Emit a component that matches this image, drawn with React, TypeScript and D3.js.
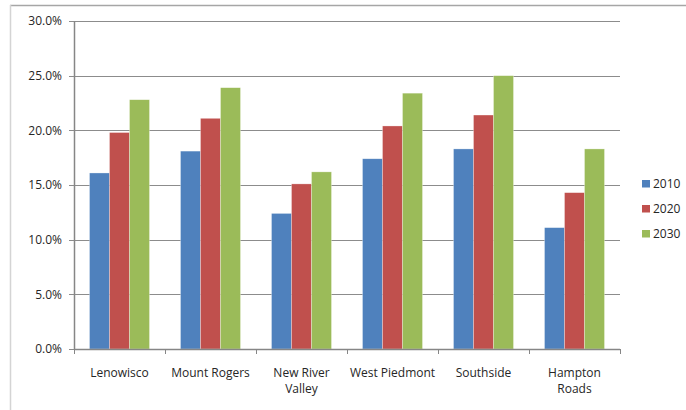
import React from "react";
import * as d3 from "d3";

const categories = ["Lenowisco", "Mount Rogers", "New River Valley", "West Piedmont", "Southside", "Hampton Roads"];
const categoryLines = [["Lenowisco"], ["Mount Rogers"], ["New River", "Valley"], ["West Piedmont"], ["Southside"], ["Hampton", "Roads"]];
const seriesNames = ["2010", "2020", "2030"];
const values2010 = [16.1, 18.1, 12.4, 17.4, 18.3, 11.1];
const values2020 = [19.8, 21.1, 15.1, 20.4, 21.4, 14.3];
const values2030 = [22.8, 23.9, 16.2, 23.4, 25.0, 18.3];
const yTicks = [0, 5, 10, 15, 20, 25, 30];
const colors = ["#4F81BD", "#C0504D", "#9BBB59"];

const W = 686, H = 410;
const left = 74, right = 620, top = 21, bottom = 349;
const font = "'Open Sans', 'Noto Sans', sans-serif";

export default function App() {
  const series = [values2010, values2020, values2030];
  const x = d3.scaleBand<string>().domain(categories).range([left, right]).paddingInner(0).paddingOuter(0);
  const barW = 20;
  const inner = d3.scaleBand<string>().domain(seriesNames).range([0, barW * 3]);
  const y = d3.scaleLinear().domain([0, 30]).range([bottom, top]);
  const bw = x.bandwidth();

  return (
    <svg width={W} height={H} style={{ position: "absolute", left: 0, top: 0, background: "#fff" }} fontFamily={font}>
      <line x1={10} x2={W} y1={5.5} y2={5.5} stroke="#a6a6a6" strokeWidth={1.5} />
      <line x1={10.5} x2={10.5} y1={5} y2={H} stroke="#d4d4d4" strokeWidth={1.5} />
      {yTicks.map((t) => (
        <g key={t}>
          {t > 0 && <line x1={left} x2={right} y1={Math.round(y(t)) + 0.5} y2={Math.round(y(t)) + 0.5} stroke="#8c8c8c" strokeWidth={1} />}
          <line x1={left - 5} x2={left} y1={Math.round(y(t)) + 0.5} y2={Math.round(y(t)) + 0.5} stroke="#8c8c8c" />
          <text x={left - 12} y={y(t)} dy="0.35em" textAnchor="end" fontSize={12} fill="#262626">{t.toFixed(1)}%</text>
        </g>
      ))}
      {categories.map((c, i) => {
        const x0 = (x(c) as number) + (bw - barW * 3) / 2;
        return (
          <g key={c}>
            {series.map((s, j) => (
              <rect key={j} x={x0 + (inner(seriesNames[j]) as number)} y={y(s[i])} width={barW} height={bottom - y(s[i])}
                fill={colors[j]} stroke="#ffffff" strokeOpacity={0.5} strokeWidth={0.6} />
            ))}
          </g>
        );
      })}
      <line x1={left + 0.5} x2={left + 0.5} y1={top} y2={bottom} stroke="#868686" strokeWidth={1.5} />
      <line x1={left} x2={right} y1={bottom + 0.5} y2={bottom + 0.5} stroke="#868686" strokeWidth={1.5} />
      {d3.range(categories.length + 1).map((k) => {
        const xx = Math.round(left + k * bw) + 0.5;
        return <line key={k} x1={xx} x2={xx} y1={bottom} y2={bottom + 5} stroke="#868686" />;
      })}
      {categories.map((c, i) => (
        <text key={c} x={(x(c) as number) + bw / 2} y={373} textAnchor="middle" fontSize={12} fill="#262626">
          {categoryLines[i].map((ln, k) => (
            <tspan key={k} x={(x(c) as number) + bw / 2} dy={k === 0 ? "0.35em" : 16}>{ln}</tspan>
          ))}
        </text>
      ))}
      {seriesNames.map((n, j) => (
        <g key={n} transform={`translate(642, ${180 + j * 25})`}>
          <rect x={0} y={0} width={8} height={7.5} fill={colors[j]} />
          <text x={11} y={4} dy="0.35em" fontSize={12} fill="#262626">{n}</text>
        </g>
      ))}
    </svg>
  );
}
